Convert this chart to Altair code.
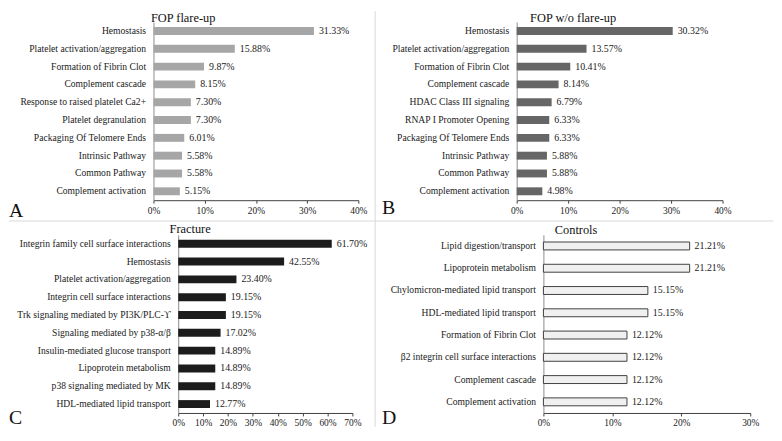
import altair as alt
import pandas as pd

# ---------------- data ----------------
a_cats = ["Hemostasis", "Platelet activation/aggregation", "Formation of Fibrin Clot",
          "Complement cascade", "Response to raised platelet Ca2+", "Platelet degranulation",
          "Packaging Of Telomere Ends", "Intrinsic Pathway", "Common Pathway",
          "Complement activation"]
a_vals = [31.33, 15.88, 9.87, 8.15, 7.30, 7.30, 6.01, 5.58, 5.58, 5.15]

b_cats = ["Hemostasis", "Platelet activation/aggregation", "Formation of Fibrin Clot",
          "Complement cascade", "HDAC Class III signaling", "RNAP I Promoter Opening",
          "Packaging Of Telomere Ends", "Intrinsic Pathway", "Common Pathway",
          "Complement activation"]
b_vals = [30.32, 13.57, 10.41, 8.14, 6.79, 6.33, 6.33, 5.88, 5.88, 4.98]

c_cats = ["Integrin family cell surface interactions", "Hemostasis",
          "Platelet activation/aggregation", "Integrin cell surface interactions",
          "Trk signaling  mediated  by  PI3K/PLC-ϒ", "Signaling  mediated  by  p38-α/β",
          "Insulin-mediated glucose transport", "Lipoprotein metabolism",
          "p38 signaling mediated by MK", "HDL-mediated lipid transport"]
c_vals = [61.70, 42.55, 23.40, 19.15, 19.15, 17.02, 14.89, 14.89, 14.89, 12.77]

d_cats = ["Lipid digestion/transport", "Lipoprotein metabolism",
          "Chylomicron-mediated lipid transport", "HDL-mediated lipid transport",
          "Formation of Fibrin Clot ", "β2 integrin  cell  surface  interactions ",
          "Complement cascade", "Complement activation"]
d_vals = [21.21, 21.21, 15.15, 15.15, 12.12, 12.12, 12.12, 12.12]

titles = ["FOP flare-up", "FOP w/o flare-up", "Fracture", "Controls"]
letters = ["A", "B", "C", "D"]
x_maxes = [40, 40, 70, 30]

SERIF = "Liberation Serif"
INK = "#1a1a1a"
W = 236
H = 180


def panel(cats, vals, xmax, x_range, y_off, fill, stroke, title, title_xy,
          letter, letter_xy, extras=None):
    df = pd.DataFrame({"pathway": cats, "pct": vals,
                       "label": [f"{v:.2f}%" for v in vals]})
    ticks = list(range(0, xmax + 1, 10))
    x = alt.X("pct:Q",
              scale=alt.Scale(domain=[0, xmax], range=x_range, nice=False, zero=True),
              axis=alt.Axis(values=ticks, labelExpr="datum.value + '%'", grid=False,
                            title=None, tickSize=3, tickColor="#404040",
                            domainColor="#404040", labelPadding=2, labelFont=SERIF,
                            labelFontSize=9.5, labelColor=INK, labelOverlap=False,
                            labelFlush=False))
    y = alt.Y("pathway:N", sort=cats, title=None,
              scale=alt.Scale(paddingInner=0, paddingOuter=0),
              axis=alt.Axis(ticks=False, domainColor="#8c8c8c", labelPadding=8,
                            labelLimit=400, labelFont=SERIF, labelFontSize=9.7,
                            labelColor=INK, offset=y_off, labelOverlap=False))
    base = alt.Chart(df)
    bar_kw = dict(size=8, color=fill)
    if stroke:
        bar_kw.update(stroke=stroke, strokeWidth=1)
    bars = base.mark_bar(**bar_kw).encode(x=x, y=y)
    txt = base.mark_text(align="left", baseline="middle", dx=5, font=SERIF,
                         fontSize=10, color=INK).encode(x=x, y=y, text="label:N")
    tdf = pd.DataFrame({"t": [title]})
    ttl = alt.Chart(tdf).mark_text(align="center", baseline="middle", font=SERIF,
                                   fontSize=12.5, color="#111111").encode(
        x=alt.value(title_xy[0]), y=alt.value(title_xy[1]), text="t:N")
    ldf = pd.DataFrame({"t": [letter]})
    let = alt.Chart(ldf).mark_text(align="left", baseline="alphabetic", font=SERIF,
                                   fontSize=20, color="#111111").encode(
        x=alt.value(letter_xy[0]), y=alt.value(letter_xy[1]), text="t:N")
    layers = [bars, txt, ttl, let] + (extras or [])
    return alt.layer(*layers).properties(width=W, height=H)


one = pd.DataFrame({"k": [0]})
vrule = alt.Chart(one).mark_rule(color="#d9d9d9", strokeWidth=1).encode(
    x=alt.value(224), y=alt.value(-11), y2=alt.value(409))
hrule = alt.Chart(one).mark_rule(color="#d9d9d9", strokeWidth=1).encode(
    y=alt.value(201), x=alt.value(-146), x2=alt.value(626))

pa = panel(a_cats, a_vals, x_maxes[0], [0, 207], 0, "#a6a6a6", None, titles[0],
           (30, -4.5), letters[0], (-146, 197), [vrule, hrule])
pb = panel(b_cats, b_vals, x_maxes[1], [0, 208], 0, "#666666", None, titles[1],
           (57, -4.5), letters[1], (-136, 194))
pc = panel(c_cats, c_vals, x_maxes[2], [25, 201], -25, "#1c1c1c", None, titles[2],
           (37, -6), letters[2], (-146, 191))
pd_ = panel(d_cats, d_vals, x_maxes[3], [27, 236], -27, "#f0f0f0", "#404040", titles[3],
            (60, -5), letters[3], (-136, 191))

chart = alt.concat(pa, pb, pc, pd_, columns=2, spacing={"row": 35, "column": 131},
                   bounds="flush", align="all").properties(padding=0).configure_view(
    stroke="transparent").resolve_scale(x="independent", y="independent")

chart.save("out.html", embed_options={"renderer": "svg", "actions": False})
